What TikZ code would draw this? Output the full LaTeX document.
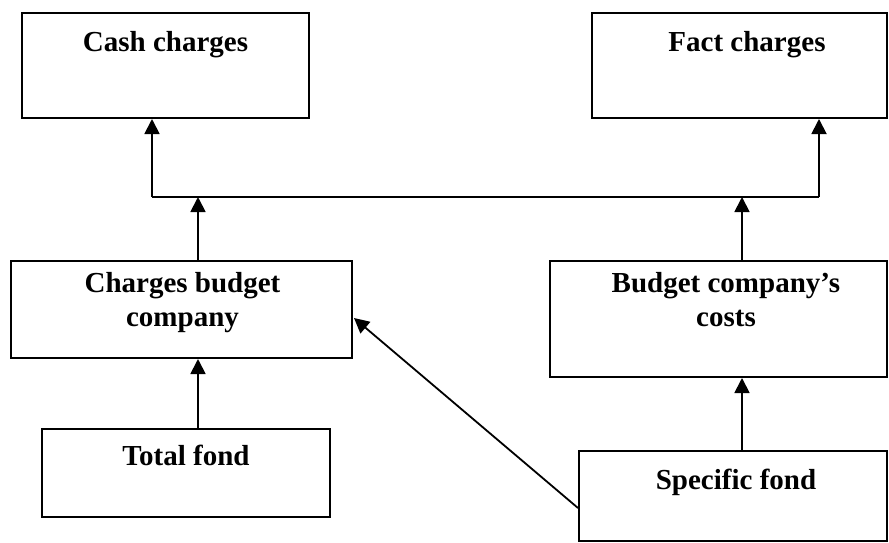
\documentclass[tikz,border=0pt]{standalone}
\usepackage{fontspec}
\setmainfont{Liberation Serif}
\usetikzlibrary{arrows.meta,calc}
\begin{document}
\begin{tikzpicture}[x=1pt,y=-1pt,
  box/.style={draw=black,line width=2pt,rectangle,inner sep=0pt},
  lbl/.style={inner sep=0pt,align=center,font=\fontsize{29}{34}\selectfont\bfseries},
  conn/.style={line width=1.8pt},
  arr/.style={conn,-{Triangle[length=15pt,width=15pt]}}]
\useasboundingbox (0,0) rectangle (889,543);
% boxes
\node[box,minimum width=287pt,minimum height=105pt] (cash) at (165.5,65.5) {};
\node[box,minimum width=295pt,minimum height=105pt] (fact) at (739.5,65.5) {};
\node[box,minimum width=341pt,minimum height=97pt] (cbc) at (181.5,309.5) {};
\node[box,minimum width=337pt,minimum height=116pt] (bcc) at (718.5,319) {};
\node[box,minimum width=288pt,minimum height=88pt] (total) at (186,473) {};
\node[box,minimum width=308pt,minimum height=90pt] (spec) at (733,496) {};
% labels
\node[lbl,anchor=base] (tcash) at (165.5,52) {Cash charges};
\node[lbl,anchor=base] (tfact) at (747,52) {Fact charges};
\node[lbl,anchor=north] (tcbc) at (182.5,272.5) {Charges budget\\company};
\node[lbl,anchor=north] (tbcc) at (726,272.5) {Budget company’s\\costs};
\node[lbl,anchor=base] (ttotal) at (186,465) {Total fond};
\node[lbl,anchor=base] (tspec) at (736,489) {Specific fond};
% junctions
\coordinate (jL) at (152,197);
\coordinate (jR) at (819,197);
\coordinate (jA) at (198,197);
\coordinate (jB) at (742,197);
% connectors
\draw[conn] (jL) -- (jR);
\draw[arr] (jL) -- (jL |- cash.south);
\draw[arr] (jR) -- (jR |- fact.south);
\draw[arr] (jA |- cbc.north) -- (jA);
\draw[arr] (jB |- bcc.north) -- (jB);
\draw[arr] (jA |- total.north) -- (jA |- cbc.south);
\draw[arr] (jB |- spec.north) -- (jB |- bcc.south);
\draw[arr] ($(spec.west)+(0,12)$) -- ($(cbc.east)+(1,8.5)$);
\end{tikzpicture}
\end{document}
